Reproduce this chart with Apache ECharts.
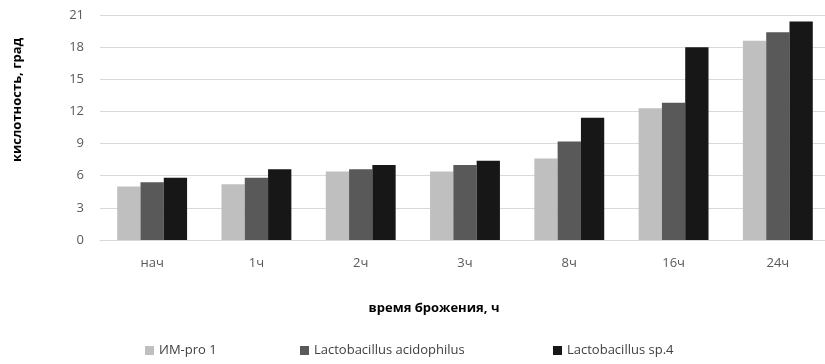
<!DOCTYPE html>
<html>
<head>
<meta charset="utf-8">
<script src="https://cdn.jsdelivr.net/npm/echarts@6/dist/echarts.min.js"></script>
<style>
  html, body { margin: 0; padding: 0; background: #fff; }
  #chart { width: 825px; height: 364px; }
</style>
</head>
<body>
<div id="chart"></div>
<script>
// Fermentation time points
const categories = ['нач', '1ч', '2ч', '3ч', '8ч', '16ч', '24ч'];

// Acidity per culture, degrees
const imPro1 = [5.0, 5.2, 6.4, 6.4, 7.6, 12.3, 18.6];
const acidophilus = [5.4, 5.8, 6.6, 7.0, 9.2, 12.8, 19.4];
const sp4 = [5.8, 6.6, 7.0, 7.4, 11.4, 18.0, 20.4];

const seriesNames = ['ИМ-pro 1', 'Lactobacillus acidophilus', 'Lactobacillus sp.4'];
const seriesColors = ['#bfbfbf', '#595959', '#171717'];
const yTicks = [0, 3, 6, 9, 12, 15, 18, 21];

const font = '"Open Sans", "Noto Sans", sans-serif';
const chart = echarts.init(document.getElementById('chart'), null, { renderer: 'canvas' });

const legendLefts = [145, 300, 553];

chart.setOption({
  animation: false,
  backgroundColor: '#fff',
  textStyle: { fontFamily: font },
  grid: {
    left: 100, width: 730, top: 15, height: 225,
    containLabel: false,
    outerBoundsMode: 'none'
  },
  legend: seriesNames.map((name, i) => ({
    data: [name],
    left: legendLefts[i],
    top: 344,
    icon: 'rect',
    itemWidth: 9,
    itemHeight: 9,
    itemGap: 0,
    padding: 0,
    textStyle: { fontFamily: font, fontSize: 13, color: '#404040' }
  })),
  xAxis: {
    type: 'category',
    data: categories,
    axisLine: { lineStyle: { color: '#d9d9d9', width: 1 } },
    axisTick: { show: false },
    axisLabel: { color: '#595959', fontSize: 13, margin: 17, fontFamily: font }
  },
  yAxis: {
    type: 'value',
    min: yTicks[0],
    max: yTicks[yTicks.length - 1],
    interval: 3,
    axisLine: { show: false },
    axisTick: { show: false },
    splitLine: { lineStyle: { color: '#d9d9d9', width: 1 } },
    axisLabel: { color: '#595959', fontSize: 13, margin: 16, fontFamily: font }
  },
  graphic: [
    {
      type: 'text',
      x: 17, y: 100,
      rotation: Math.PI / 2,
      style: {
        text: 'кислотность, град',
        fontFamily: font, fontSize: 13, fontWeight: 'bold', fill: '#000',
        align: 'center', verticalAlign: 'middle'
      }
    },
    {
      type: 'text',
      x: 434, y: 308,
      style: {
        text: 'время брожения, ч',
        fontFamily: font, fontSize: 13, fontWeight: 'bold', fill: '#000',
        align: 'center', verticalAlign: 'middle'
      }
    }
  ],
  series: [imPro1, acidophilus, sp4].map((data, i) => ({
    name: seriesNames[i],
    type: 'bar',
    data: data,
    barGap: '0%',
    barCategoryGap: '33%',
    itemStyle: { color: seriesColors[i] }
  }))
});
</script>
</body>
</html>
